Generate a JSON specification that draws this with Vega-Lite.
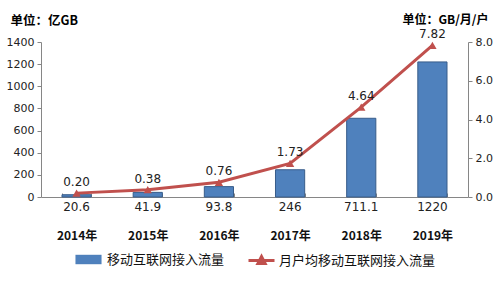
{
  "$schema": "https://vega.github.io/schema/vega-lite/v6.json",
  "autosize": {"type": "none"},
  "width": 427,
  "height": 155,
  "padding": {"left": 41, "top": 42, "right": 31, "bottom": 85},
  "background": "white",
  "config": {
    "view": {"stroke": null},
    "font": "Noto Sans CJK SC",
    "axis": {"grid": false, "domainColor": "#868686", "tickColor": "#868686", "labelColor": "#222222", "labelFont": "DejaVu Sans", "labelFontSize": 11, "labelOverlap": false}
  },
  "data": {
    "values": [
      {"year": "2014年", "traffic": 20.6, "tlabel": "20.6", "per": 0.20, "plabel": "0.20"},
      {"year": "2015年", "traffic": 41.9, "tlabel": "41.9", "per": 0.38, "plabel": "0.38"},
      {"year": "2016年", "traffic": 93.8, "tlabel": "93.8", "per": 0.76, "plabel": "0.76"},
      {"year": "2017年", "traffic": 246, "tlabel": "246", "per": 1.73, "plabel": "1.73"},
      {"year": "2018年", "traffic": 711.1, "tlabel": "711.1", "per": 4.64, "plabel": "4.64"},
      {"year": "2019年", "traffic": 1220, "tlabel": "1220", "per": 7.82, "plabel": "7.82"}
    ]
  },
  "encoding": {
    "x": {
      "field": "year", "type": "nominal", "sort": null,
      "scale": {"paddingInner": 0.59, "paddingOuter": 0.295},
      "axis": {"title": null, "labelAngle": 0, "tickBand": "extent", "tickSize": -4, "labelPadding": 37, "labelFont": "Noto Sans CJK SC", "labelFontSize": 12, "labelColor": "#111111", "labelFontWeight": "bold"}
    }
  },
  "layer": [
    {
      "layer": [
        {
          "mark": {"type": "bar", "stroke": "#385D8A", "strokeWidth": 1},
          "encoding": {
            "y": {"field": "traffic", "type": "quantitative",
              "scale": {"domain": [0, 1400], "nice": false},
              "axis": {"tickCount": 7, "format": "d", "tickSize": 4, "labelPadding": 3, "title": "单位：亿GB", "titleAngle": 0, "titleAlign": "left", "titleBaseline": "middle", "titleX": -31, "titleY": -22, "titleFontSize": 12.5, "titleFontWeight": "bold", "titleColor": "#000000", "titleFont": "Noto Sans CJK SC"}},
            "fill": {"datum": "移动互联网接入流量", "type": "nominal",
              "scale": {"domain": ["移动互联网接入流量"], "range": ["#4F81BD"]},
              "legend": {"orient": "none", "direction": "horizontal", "legendX": 34, "legendY": 204, "title": null, "labelFontSize": 13, "labelColor": "#111111", "labelFont": "Noto Sans CJK SC", "symbolSize": 676, "symbolType": "M-1,-0.36H1V0.36H-1Z", "symbolStrokeColor": "#385D8A", "symbolStrokeWidth": 0.05, "labelOffset": 5, "symbolOpacity": 1}}
          }
        },
        {
          "mark": {"type": "text", "dy": 5, "baseline": "top", "font": "DejaVu Sans", "fontSize": 12, "color": "#222222"},
          "encoding": {
            "y": {"datum": 0, "type": "quantitative"},
            "text": {"field": "tlabel"}
          }
        }
      ]
    },
    {
      "layer": [
        {
          "mark": {"type": "line", "strokeWidth": 3},
          "encoding": {
            "y": {"field": "per", "type": "quantitative",
              "scale": {"domain": [0, 8], "nice": false},
              "axis": {"orient": "right", "tickCount": 4, "format": ".1f", "tickSize": 4, "labelPadding": 3, "title": "单位：GB/月/户", "titleAngle": 0, "titleAlign": "right", "titleBaseline": "middle", "titleX": 20, "titleY": -23, "titleFontSize": 12, "titleFontWeight": "bold", "titleColor": "#000000", "titleFont": "Noto Sans CJK SC"}},
            "stroke": {"datum": "月户均移动互联网接入流量", "type": "nominal",
              "scale": {"domain": ["月户均移动互联网接入流量"], "range": ["#C0504D"]},
              "legend": {"orient": "none", "direction": "horizontal", "legendX": 206, "legendY": 204, "title": null, "labelFontSize": 13, "labelColor": "#111111", "labelFont": "Noto Sans CJK SC", "symbolSize": 676, "symbolType": "M-1,0H1M-0.28,0.24L0,-0.3L0.28,0.24Z", "symbolStrokeWidth": 3, "labelOffset": 3, "symbolOpacity": 1,
                "encode": {"symbols": {"update": {"fill": {"value": "#C0504D"}, "stroke": {"value": "#C0504D"}, "strokeWidth": {"value": 3}}}}}}
          }
        },
        {
          "mark": {"type": "point", "shape": "triangle-up", "filled": true, "color": "#C0504D", "size": 70, "opacity": 1},
          "encoding": {
            "y": {"field": "per", "type": "quantitative"}
          }
        },
        {
          "mark": {"type": "text", "dy": -11, "baseline": "middle", "font": "DejaVu Sans", "fontSize": 12, "color": "#222222"},
          "encoding": {
            "y": {"field": "per", "type": "quantitative"},
            "text": {"field": "plabel"}
          }
        }
      ]
    }
  ],
  "resolve": {"scale": {"y": "independent"}}
}
